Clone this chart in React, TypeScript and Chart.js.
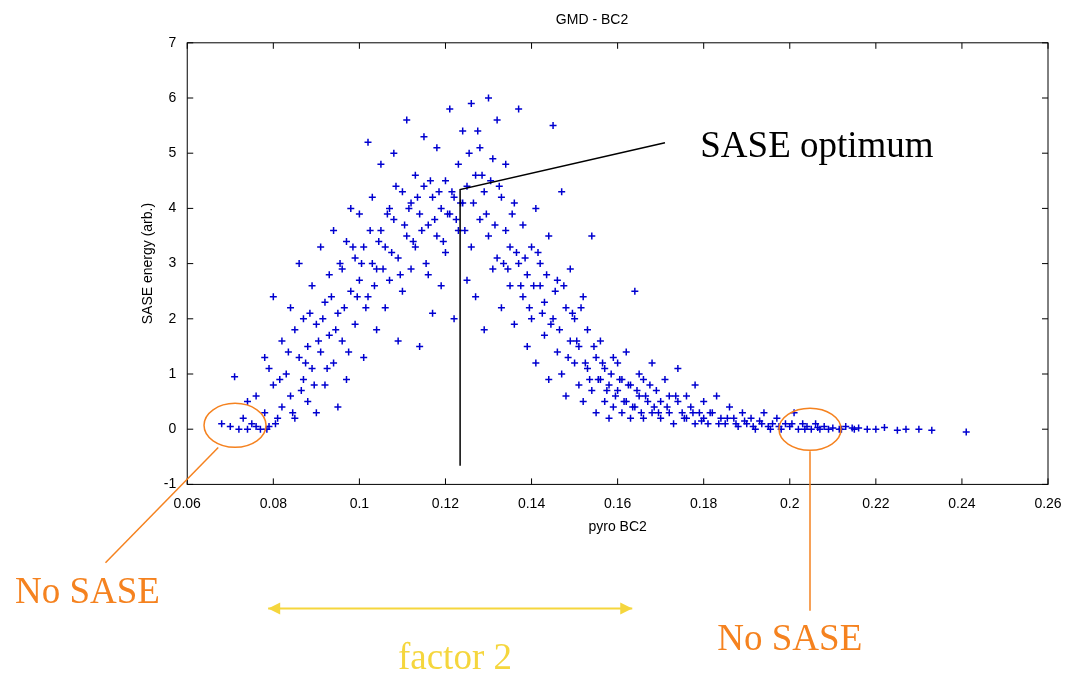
import React, { useEffect, useRef } from "react";
import { Chart, registerables } from "chart.js";
Chart.register(...registerables);

const samples: [number, number][] = [
[0.068,0.1],[0.070,0.05],[0.071,0.95],[0.072,0.0],[0.073,0.2],[0.074,0.5],[0.075,0.1],[0.076,0.6],[0.077,0.0],[0.078,0.3],[0.079,1.1],[0.079,0.05],[0.080,0.8],[0.080,2.4],[0.078,1.3],[0.076,0.05],[0.074,0.0],[0.081,0.2],[0.082,1.6],[0.082,0.4],
[0.083,1.0],[0.084,2.2],[0.084,0.6],[0.085,1.8],[0.085,0.2],[0.086,1.3],[0.086,3.0],[0.087,0.9],[0.087,2.0],[0.088,1.5],[0.088,0.5],[0.089,2.6],[0.089,1.1],[0.090,0.3],[0.090,1.9],[0.091,3.3],[0.091,1.4],[0.092,2.3],[0.092,0.8],[0.093,1.7],[0.093,2.8],[0.094,1.2],[0.094,3.6],[0.095,2.1],[0.095,0.4],[0.096,2.9],[0.096,1.6],[0.097,3.4],[0.097,0.9],[0.098,2.5],[0.098,4.0],[0.099,1.9],[0.099,3.1],
[0.100,2.7],[0.100,3.9],[0.101,1.3],[0.101,3.3],[0.102,5.2],[0.102,2.4],[0.103,3.0],[0.103,4.2],[0.104,1.8],[0.104,2.9],[0.105,3.6],[0.105,4.8],[0.106,2.2],[0.106,3.3],[0.107,4.0],[0.107,2.7],[0.108,3.8],[0.108,5.0],[0.109,3.1],[0.109,1.6],[0.110,4.3],[0.110,2.5],[0.111,5.6],[0.111,3.5],[0.112,4.1],[0.112,2.9],[0.113,4.6],[0.113,3.3],[0.114,3.9],[0.114,1.5],[0.115,4.4],[0.115,5.3],[0.116,2.8],[0.116,3.7],[0.117,4.2],[0.117,2.1],[0.118,5.1],[0.118,3.5],[0.119,4.0],[0.119,2.6],
[0.120,4.5],[0.120,3.2],[0.121,5.8],[0.121,3.9],[0.122,4.2],[0.122,2.0],[0.123,4.8],[0.123,3.6],[0.124,5.4],[0.124,4.1],[0.125,2.7],[0.125,4.4],[0.126,5.9],[0.126,3.3],[0.127,4.6],[0.127,2.4],[0.128,5.1],[0.128,3.8],[0.129,4.3],[0.129,1.8],[0.130,6.0],[0.130,3.5],[0.131,4.9],[0.131,2.9],[0.132,5.6],[0.132,3.1],[0.133,4.2],[0.133,2.2],[0.134,3.6],[0.134,4.8],[0.135,2.6],[0.135,3.3],[0.136,4.1],[0.136,1.9],[0.137,3.0],[0.137,5.8],[0.138,2.4],[0.138,3.7],[0.139,1.5],[0.139,2.8],
[0.140,3.3],[0.140,2.0],[0.141,4.0],[0.141,1.2],[0.142,2.6],[0.142,3.0],[0.143,1.7],[0.143,2.3],[0.144,3.5],[0.144,0.9],[0.145,2.0],[0.145,5.5],[0.146,1.4],[0.146,2.7],[0.147,4.3],[0.147,1.0],[0.148,2.2],[0.148,0.6],[0.149,1.6],[0.149,2.9],[0.150,1.2],[0.150,2.0],[0.151,0.8],[0.151,1.5],[0.152,2.4],[0.152,0.5],[0.153,1.1],[0.153,1.8],[0.154,0.7],[0.154,3.5],[0.155,1.3],[0.155,0.3],[0.156,0.9],[0.156,1.6],[0.157,0.5],[0.157,1.1],[0.158,0.2],[0.158,0.8],[0.159,1.3],[0.159,0.4],
[0.160,0.7],[0.160,1.2],[0.161,0.3],[0.161,0.9],[0.162,1.4],[0.162,0.5],[0.163,0.2],[0.163,0.8],[0.164,2.5],[0.164,0.4],[0.165,1.0],[0.165,0.6],[0.166,0.2],[0.166,0.9],[0.167,0.5],[0.168,1.2],[0.168,0.3],[0.169,0.7],[0.170,0.2],[0.170,0.5],[0.171,0.9],[0.172,0.3],[0.172,0.6],[0.173,0.1],[0.174,0.5],[0.174,1.1],[0.175,0.3],[0.176,0.2],[0.176,0.6],[0.177,0.4],[0.178,0.1],[0.178,0.8],[0.179,0.3],[0.180,0.2],[0.180,0.5],
[0.181,0.1],[0.182,0.3],[0.183,0.6],[0.184,0.2],[0.185,0.1],[0.186,0.4],[0.187,0.2],[0.188,0.05],[0.189,0.3],[0.190,0.1],[0.191,0.2],[0.192,0.0],[0.193,0.15],[0.194,0.3],[0.195,0.05],[0.196,0.1],[0.197,0.2],[0.198,0.0],[0.199,0.1],[0.200,0.05],[0.201,0.3],[0.202,0.0],[0.203,0.1],[0.204,0.05],[0.205,0.0],[0.206,0.1],[0.207,0.0],[0.208,0.05],[0.209,0.0],[0.210,0.02],[0.212,0.0],[0.213,0.05],[0.215,0.0],[0.216,0.02],[0.218,0.0],[0.220,0.0],[0.222,0.03],[0.225,-0.02],[0.227,0.0],[0.230,0.0],[0.233,-0.02],[0.241,-0.05],
[0.0785,0.0],[0.0805,0.1],[0.0815,0.9],[0.0835,1.4],[0.0845,0.3],[0.0865,0.7],[0.0875,1.2],[0.0885,2.1],[0.0895,0.8],[0.0905,1.6],[0.0915,2.0],[0.0925,1.1],[0.0935,2.4],[0.0945,1.8],[0.0955,3.0],[0.0965,2.2],[0.0975,1.4],[0.0985,3.3],[0.0995,2.4],
[0.1005,3.0],[0.1015,2.2],[0.1025,3.6],[0.1035,2.6],[0.1045,3.4],[0.1055,2.9],[0.1065,3.9],[0.1075,3.2],[0.1085,4.4],[0.1095,2.8],[0.1105,3.7],[0.1115,4.0],[0.1125,3.4],[0.1135,4.2],[0.1145,3.6],[0.1155,3.0],[0.1165,4.5],[0.1175,3.8],[0.1185,4.3],[0.1195,3.4],
[0.1205,3.9],[0.1215,4.3],[0.1225,3.8],[0.1235,4.1],[0.1245,3.6],[0.1255,5.0],[0.1265,4.1],[0.1275,5.4],[0.1285,4.6],[0.1295,3.9],[0.1305,4.5],[0.1315,3.7],[0.1325,4.4],[0.1335,3.0],[0.1345,2.9],[0.1355,3.9],[0.1365,3.2],[0.1375,2.6],[0.1385,3.1],[0.1395,2.2],
[0.1405,2.6],[0.1415,3.2],[0.1425,2.1],[0.1435,2.8],[0.1445,1.9],[0.1455,2.5],[0.1465,1.8],[0.1475,2.6],[0.1485,1.3],[0.1495,2.1],[0.1505,1.6],[0.1515,2.2],[0.1525,1.2],[0.1535,0.9],[0.1545,1.5],[0.1555,0.9],[0.1565,1.2],[0.1575,0.7],[0.1585,1.0],[0.1595,0.6],
[0.1605,0.9],[0.1615,0.5],[0.1625,0.8],[0.1635,0.4],[0.1645,0.7],[0.1655,0.3],[0.1665,0.6],[0.1675,0.8],[0.1685,0.4],[0.1695,0.3],[0.1715,0.4],[0.1735,0.6],[0.1755,0.2],[0.1775,0.3],[0.1795,0.15],[0.1815,0.3],[0.1835,0.1],[0.1855,0.2],[0.1875,0.1],[0.1895,0.15],[0.1915,0.05],[0.1935,0.1],[0.1955,0.0],[0.1975,0.05],[0.2005,0.1],[0.2035,0.0],[0.2065,0.03],[0.2115,0.0],[0.2145,0.02]
];

const ORANGE = "#f5821f";
const YELLOW = "#f5d63d";

const annoPlugin = {
  id: "anno",
  afterDraw(chart: any) {
    const { ctx, chartArea: a, scales } = chart;
    const X = (v: number) => scales.x.getPixelForValue(v);
    const Y = (v: number) => scales.y.getPixelForValue(v);
    ctx.save();
    ctx.strokeStyle = "#000"; ctx.lineWidth = 1;
    ctx.strokeRect(a.left, a.top, a.right - a.left, a.bottom - a.top);
    for (let v = 0.06; v <= 0.2601; v += 0.02) {
      const px = X(v);
      ctx.beginPath(); ctx.moveTo(px, a.bottom); ctx.lineTo(px, a.bottom - 6);
      ctx.moveTo(px, a.top); ctx.lineTo(px, a.top + 6); ctx.stroke();
    }
    for (let v = -1; v <= 7; v++) {
      const py = Y(v);
      ctx.beginPath(); ctx.moveTo(a.left, py); ctx.lineTo(a.left + 6, py);
      ctx.moveTo(a.right, py); ctx.lineTo(a.right - 6, py); ctx.stroke();
    }
    ctx.lineWidth = 1.5;
    ctx.beginPath(); ctx.moveTo(X(0.171), Y(5.19)); ctx.lineTo(X(0.1234), Y(4.34));
    ctx.lineTo(X(0.1234), Y(-0.66)); ctx.stroke();
    ctx.fillStyle = "#000"; ctx.font = "37px 'Liberation Serif'";
    ctx.textAlign = "left"; ctx.textBaseline = "middle";
    ctx.fillText("SASE optimum", X(0.1792), Y(5.1));
    ctx.strokeStyle = ORANGE; ctx.fillStyle = ORANGE; ctx.lineWidth = 1.5;
    ctx.beginPath(); ctx.ellipse(X(0.0711), Y(0.07), 31, 22, 0, 0, Math.PI * 2); ctx.stroke();
    ctx.beginPath(); ctx.ellipse(X(0.2047), Y(0.0), 31, 21, 0, 0, Math.PI * 2); ctx.stroke();
    ctx.beginPath(); ctx.moveTo(X(0.0672), Y(-0.33)); ctx.lineTo(X(0.041), Y(-2.42)); ctx.stroke();
    ctx.beginPath(); ctx.moveTo(X(0.2047), Y(-0.4)); ctx.lineTo(X(0.2047), Y(-3.29)); ctx.stroke();
    ctx.textAlign = "center";
    ctx.fillText("No SASE", X(0.0368), Y(-2.98));
    ctx.fillText("No SASE", X(0.2), Y(-3.83));
    ctx.strokeStyle = YELLOW; ctx.fillStyle = YELLOW; ctx.lineWidth = 2;
    const x1 = X(0.0788), x2 = X(0.1634), ya = Y(-3.25);
    ctx.beginPath(); ctx.moveTo(x1, ya); ctx.lineTo(x2, ya); ctx.stroke();
    ctx.beginPath(); ctx.moveTo(x1, ya); ctx.lineTo(x1 + 12, ya - 6); ctx.lineTo(x1 + 12, ya + 6); ctx.fill();
    ctx.beginPath(); ctx.moveTo(x2, ya); ctx.lineTo(x2 - 12, ya - 6); ctx.lineTo(x2 - 12, ya + 6); ctx.fill();
    ctx.fillText("factor 2", X(0.1222), Y(-4.16));
    ctx.restore();
  },
};

export default function App() {
  const ref = useRef<HTMLCanvasElement>(null);
  useEffect(() => {
    const font = { family: "'Liberation Sans', Arial", size: 14 };
    const chart = new Chart(ref.current!, {
      type: "scatter",
      data: {
        datasets: [{
          data: samples.map(([x, y]) => ({ x, y })),
          pointStyle: "cross", pointRadius: 3.5, borderColor: "#0000d0", borderWidth: 1.5,
          backgroundColor: "#0000d0",
        }],
      },
      options: {
        animation: false, responsive: false,
        layout: { padding: { left: 136, right: 21, top: 4, bottom: 134 } },
        plugins: {
          legend: { display: false }, tooltip: { enabled: false },
          title: { display: true, text: "GMD - BC2", color: "#000", font: { ...font, weight: "normal" }, padding: { top: 8, bottom: 14 } },
        },
        scales: {
          x: {
            type: "linear", min: 0.06, max: 0.26,
            ticks: { stepSize: 0.02, color: "#000", font, callback: (v: any) => String(Number(Number(v).toFixed(2))) },
            grid: { display: false }, border: { display: false },
            title: { display: true, text: "pyro BC2", color: "#000", font },
          },
          y: {
            min: -1, max: 7,
            ticks: { stepSize: 1, color: "#000", font },
            grid: { display: false }, border: { display: false },
            title: { display: true, text: "SASE energy (arb.)", color: "#000", font },
          },
        },
      },
      plugins: [annoPlugin],
    });
    return () => chart.destroy();
  }, []);
  return (
    <div style={{ position: "fixed", left: 0, top: 0, width: 1069, height: 674, background: "#fff" }}>
      <canvas ref={ref} width={1069} height={674} />
    </div>
  );
}
